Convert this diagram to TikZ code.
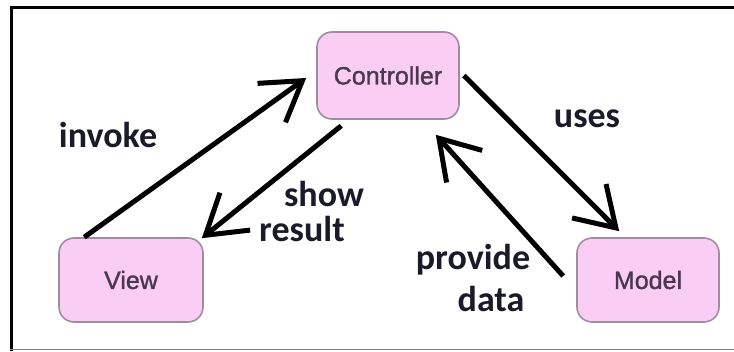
\documentclass[tikz,border=0pt]{standalone}
\usepackage{fontspec}
\setmainfont{Liberation Sans}
\newfontfamily\lblfont{Carlito}
\usetikzlibrary{arrows.meta,calc}
\definecolor{boxfill}{HTML}{FACDF5}
\definecolor{boxline}{HTML}{A08CA0}
\definecolor{boxtext}{HTML}{4A3850}
\definecolor{lbltext}{HTML}{1A1A28}
\begin{document}
\begin{tikzpicture}[x=1pt,y=1pt,
  mvcbox/.style={draw=boxline, line width=1.6pt, fill=boxfill, rounded corners=15pt,
    minimum width=142pt, minimum height=84pt, text=boxtext,
    font=\fontsize{25}{30}\selectfont, inner sep=0pt},
  lbl/.style={font=\lblfont\bfseries\fontsize{36}{40}\selectfont, text=lbltext,
    inner sep=0pt, anchor=base},
  flow/.style={line width=5pt, -{Straight Barb[length=38pt,width=48pt]}},
  frameline/.style={line width=3.5pt}]
\useasboundingbox (0,0) rectangle (734,351);
% frame
\draw[frameline] (11.5,0) -- (11.5,343.5) -- (734,343.5);
\draw[gray, line width=1.5pt] (10,1.5) -- (734,1.5);
% nodes
\node[mvcbox, minimum height=87pt] (ctrl) at (388,275.5) {\addfontfeatures{FakeBold=1.2}Controller};
\node[mvcbox, minimum width=144pt] (view) at (131,71) {\addfontfeatures{FakeBold=1.2}View};
\node[mvcbox] (model) at (648,71) {\addfontfeatures{FakeBold=1.2}Model};
% connectors
\draw[flow] ($(view.north west)+(26,0)$) -- ($(ctrl.west)+(-10,-2.5)$);
\draw[flow] ($(ctrl.south west)+(25,-6)$) -- ($(view.north east)+(-2,-1)$);
\draw[flow] ($(ctrl.east)+(4,0)$) -- ($(model.north west)+(43,6)$);
\draw[flow] ($(model.west)+(-13,4)$) -- ($(ctrl.south east)+(-24,-15)$);
% labels
\node[lbl] (invoke) at (108,203) {invoke};
\node[lbl] (uses) at (587,223) {uses};
\node[lbl] (show) at (324,144) {show};
\node[lbl] (result) at (302,109) {result};
\node[lbl] (provide) at (473,81) {provide};
\node[lbl] (data) at (491,39) {data};
\end{tikzpicture}
\end{document}
